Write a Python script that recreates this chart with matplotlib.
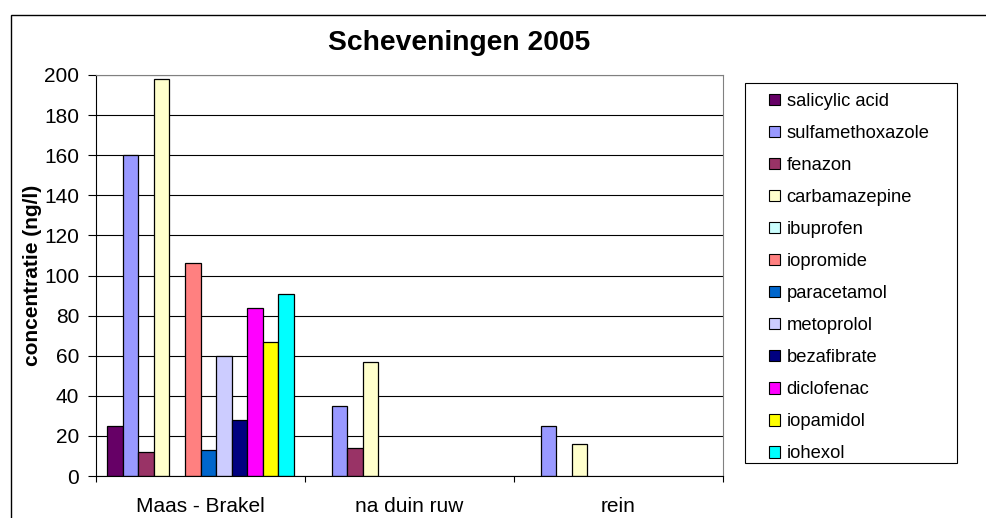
import numpy as np
import matplotlib
matplotlib.use("Agg")
import matplotlib.pyplot as plt
from matplotlib.patches import Patch, Rectangle

plt.rcParams['font.family'] = ['Liberation Sans', 'DejaVu Sans']

locations = ['Maas - Brakel', 'na duin ruw', 'rein']
compounds = ['salicylic acid', 'sulfamethoxazole', 'fenazon', 'carbamazepine',
             'ibuprofen', 'iopromide', 'paracetamol', 'metoprolol',
             'bezafibrate', 'diclofenac', 'iopamidol', 'iohexol']
colors = ['#660066', '#9999FF', '#993366', '#FFFFCC', '#CCFFFF', '#FF8080',
          '#0066CC', '#CCCCFF', '#000080', '#FF00FF', '#FFFF00', '#00FFFF']

nan = np.nan
maas_brakel = [25, 160, 12, 198, nan, 106, 13, 60, 28, 84, 67, 91]
na_duin_ruw = [nan, 35, 14, 57, nan, nan, nan, nan, nan, nan, nan, nan]
rein = [nan, 25, nan, 16, nan, nan, nan, nan, nan, nan, nan, nan]

values = np.array([maas_brakel, na_duin_ruw, rein])

W, H = 986, 518
fig = plt.figure(figsize=(W / 100, H / 100), dpi=100)
ax = fig.add_axes([96 / W, 1 - 476 / H, (723 - 96) / W, (476 - 75) / H])

n = len(compounds)
group = 0.89
bw = group / n
x = np.arange(len(locations))
for i in range(n):
    pos = x - group / 2 + (i + 0.5) * bw
    ax.bar(pos, values[:, i], width=bw, color=colors[i], edgecolor='black',
           linewidth=0.9, zorder=2)

ax.set_xlim(-0.5, len(locations) - 0.5)
ax.set_ylim(0, 200)
ax.set_yticks(np.arange(0, 201, 20))
ax.yaxis.grid(True, color='black', linewidth=0.8)
ax.set_axisbelow(True)

ax.set_xticks(np.arange(len(locations) + 1) - 0.5)
ax.set_xticklabels([])
ax.set_xticks(x, minor=True)
ax.set_xticklabels(locations, minor=True)
ax.tick_params(axis='x', which='major', length=4, width=0.8, direction='out')
ax.tick_params(axis='x', which='minor', length=0, pad=15, labelsize=15)
ax.tick_params(axis='y', length=6, width=0.8, direction='out', pad=6,
               labelsize=15)

for s in ['left', 'bottom']:
    ax.spines[s].set_color('black')
    ax.spines[s].set_linewidth(0.8)
for s in ['top', 'right']:
    ax.spines[s].set_color('#808080')
    ax.spines[s].set_linewidth(0.8)

ax.set_ylabel('concentratie (ng/l)', fontsize=15, fontweight='bold')
ax.yaxis.set_label_coords(-0.086, 0.5)

fig.text(459 / W, 1 - 43 / H, 'Scheveningen 2005', fontsize=20.3,
         fontweight='bold', ha='center', va='center')

# outer chart border (runs off the right and bottom of the picture)
fig.patches.append(Rectangle((11 / W, -0.1), 2, 1 - 15 / H + 0.1,
                             transform=fig.transFigure, fill=False,
                             edgecolor='black', linewidth=1))

# legend box
fig.patches.append(Rectangle((745 / W, 1 - 463 / H), (957 - 745) / W,
                             (463 - 83) / H, transform=fig.transFigure,
                             fill=False, edgecolor='black', linewidth=0.8))
handles = [Patch(facecolor=c, edgecolor='black', linewidth=0.8) for c in colors]
fig.legend(handles, compounds, loc='upper left',
           bbox_to_anchor=(769 / W, 1 - 93 / H), frameon=False,
           fontsize=13.2, borderpad=0, borderaxespad=0, labelspacing=0.82,
           handlelength=0.58, handleheight=0.58, handletextpad=0.38)

fig.savefig('out.png', dpi=100)
